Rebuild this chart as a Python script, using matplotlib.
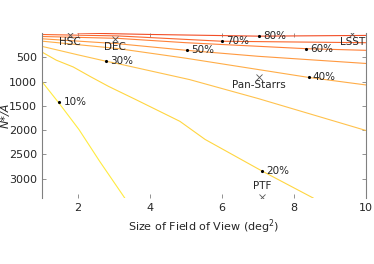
import numpy as np
import matplotlib
matplotlib.use("Agg")
import matplotlib.pyplot as plt

# Contour levels (fraction, %) (x = FoV deg^2, y = N*/A)
levels = [10, 20, 30, 40, 50, 60, 70, 80]
line_x = [
    [1.0, 1.48, 2.03, 2.6, 3.3],
    [1.0, 1.4, 1.87, 2.35, 2.85, 3.62, 4.83, 5.53, 7.1, 8.53],
    [1.0, 2.0, 2.77, 3.1, 5.1, 7.0, 10.0],
    [1.0, 3.1, 5.0, 8.4, 10.0],
    [1.0, 3.1, 5.02, 7.0, 10.0],
    [1.0, 3.1, 5.0, 8.33, 10.0],
    [1.0, 3.1, 6.0, 10.0],
    [2.0, 4.0, 7.03, 10.0],
]
line_y = [
    [1000, 1450, 1990, 2640, 3400],
    [392, 560, 700, 900, 1100, 1377, 1820, 2193, 2840, 3400],
    [275, 450, 580, 630, 960, 1350, 2010],
    [168, 320, 520, 915, 1071],
    [119, 220, 357, 480, 628],
    [72, 110, 200, 323, 357],
    [31, 60, 170, 200],
    [0, 30, 65, 50],
]
# positions of the level labels (dot + text)
label_x = [1.48, 7.1, 2.77, 8.4, 5.02, 8.33, 6.0, 7.03]
label_y = [1430, 2840, 580, 915, 357, 323, 173, 65]

# surveys
surveys = ["HSC", "DEC", "LSST", "Pan-Starrs", "PTF"]
survey_x = [1.78, 3.03, 9.62, 7.02, 7.12]
survey_y = [31, 133, 16, 900, 3380]

colors = [
    (1.0, 0.92, 0.25),
    (1.0, 0.84, 0.25),
    (1.0, 0.76, 0.30),
    (1.0, 0.68, 0.28),
    (1.0, 0.60, 0.25),
    (1.0, 0.50, 0.22),
    (0.98, 0.40, 0.18),
    (0.95, 0.30, 0.15),
]

fig = plt.figure(figsize=(3.74, 2.64), dpi=100)
ax = fig.add_axes([0.112, 0.25, 0.867, 0.625])

for i in range(len(levels)):
    ax.plot(line_x[i], line_y[i], color=colors[i], lw=0.8)
    ax.plot(label_x[i], label_y[i], 'k.', ms=2.5)
    ax.text(label_x[i] + 0.12, label_y[i], f"{levels[i]}%", fontsize=7.5,
            color='#262626', va='center', ha='left')

for name, x, y in zip(surveys, survey_x, survey_y):
    ax.plot(x, y, 'x', color='#555555', ms=5, mew=0.6)
    if name == "PTF":
        ax.text(x, y - 120, name, fontsize=7.5, color='#262626', ha='center', va='bottom')
    else:
        ax.text(x, y + 60, name, fontsize=7.5, color='#262626', ha='center', va='top')

ax.set_xlim(1, 10)
ax.set_ylim(3400, 0)
ax.set_xticks([2, 4, 6, 8, 10])
ax.set_yticks([500, 1000, 1500, 2000, 2500, 3000])
ax.tick_params(direction='in', length=3, width=0.6, color='#808080',
               labelsize=8, labelcolor='#262626', top=True, right=True)
for s in ['top', 'bottom']:
    ax.spines[s].set_visible(False)
for s in ['left', 'right']:
    ax.spines[s].set_color('#808080')
    ax.spines[s].set_linewidth(0.8)

ax.set_xlabel("Size of Field of View (deg$^2$)", fontsize=8, color='#262626', labelpad=3)
ax.set_ylabel("N*/A", fontsize=8, color='#262626', style='italic')
ax.yaxis.set_label_coords(-0.095, 0.5)

fig.savefig("out.png", dpi=100)
